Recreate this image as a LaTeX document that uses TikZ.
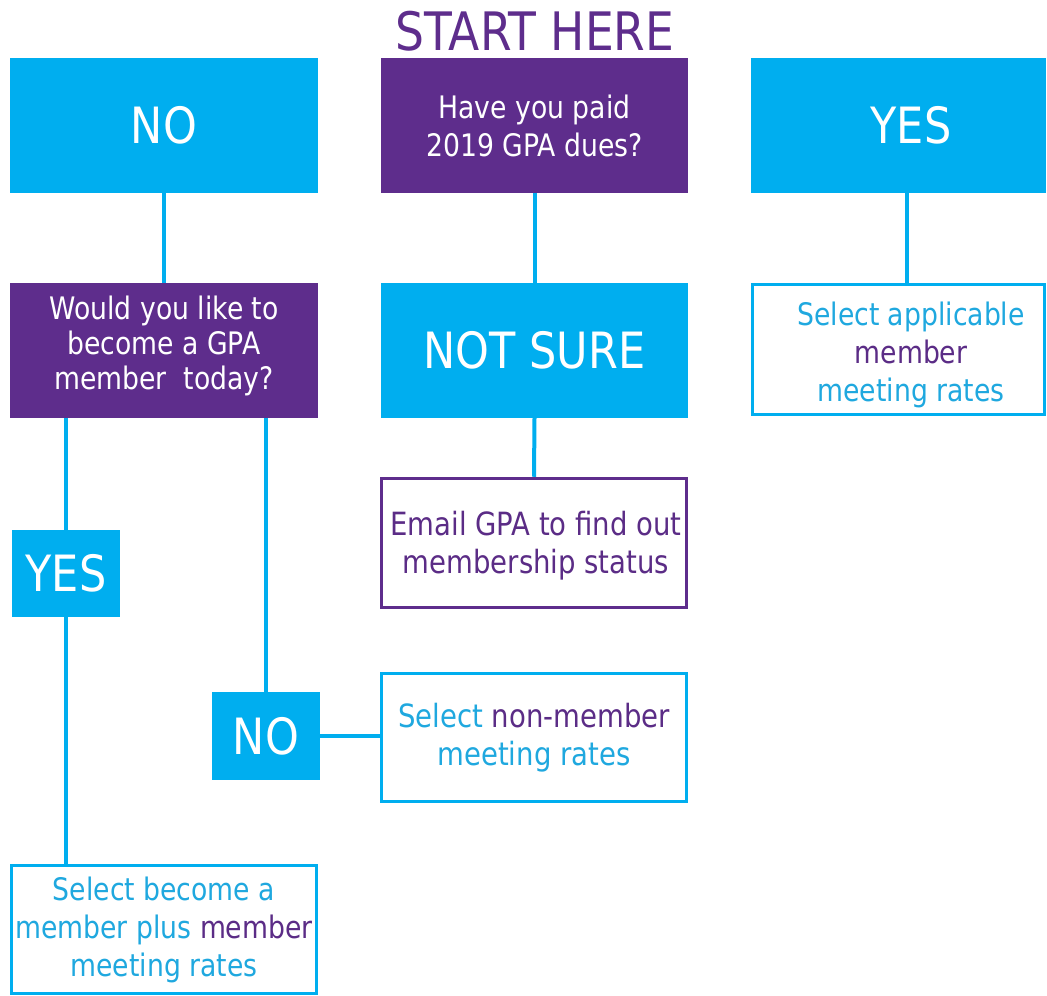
\documentclass[tikz,border=0pt]{standalone}
\usepackage{fontspec}
\setmainfont[FakeStretch=0.86]{DejaVu Sans}
\definecolor{gblue}{HTML}{00AEEF}
\definecolor{gpurple}{HTML}{5E2D8C}
\definecolor{tblue}{HTML}{1FA8DF}
\definecolor{tpurple}{HTML}{5B2C86}
\newcommand{\bigtxt}{\fontsize{50}{54}\selectfont}
\newcommand{\qtxt}{\fontsize{31}{35}\selectfont}
\newcommand{\otxt}{\fontsize{32}{38}\selectfont}
\tikzset{
  bluefill/.style={rectangle, fill=gblue, draw=none, text=white, font=\bigtxt, inner sep=0pt},
  purplefill/.style={rectangle, fill=gpurple, draw=none, text=white, font=\qtxt, align=center, inner sep=0pt},
  outbox/.style={rectangle, fill=white, draw=#1, line width=3.5pt, text=tblue, font=\otxt, align=center, inner sep=0pt},
  link/.style={draw=gblue, line width=4pt},
  plaintxt/.style={inner sep=0pt, align=center}
}
\begin{document}
\begin{tikzpicture}[x=1pt,y=-1pt]
\useasboundingbox[fill=white] (0,0) rectangle (1047,996);

\node[plaintxt, text=gpurple, font=\fontsize{53}{56}\selectfont] (start) at (535,31) {START HERE};

% top row
\node[bluefill, minimum width=308pt, minimum height=135pt] (noTop) at (164,125.5) {NO};
\node[purplefill, minimum width=307pt, minimum height=135pt, font=\fontsize{31}{38}\selectfont] (q1) at (534.5,125.5) {Have you paid\\2019 GPA dues?};
\node[bluefill, minimum width=295pt, minimum height=135pt] (yesTop) at (898.5,125.5) {};
\node[plaintxt, text=white, font=\bigtxt] (yesTopTxt) at (911,125.5) {YES};

% second row
\node[purplefill, minimum width=308pt, minimum height=135pt] (q2) at (164,350.5) {};
\node[plaintxt, text=white, font=\qtxt] (q2Txt) at (164,346) {Would you like to\\become a GPA\\member\ \ today?};
\node[bluefill, minimum width=307pt, minimum height=135pt] (notSure) at (534.5,350.5) {NOT SURE};
\node[outbox=gblue, minimum width=292pt, minimum height=130pt] (appl) at (898.5,349.5) {};
\node[plaintxt, text=tblue, font=\fontsize{31}{38}\selectfont] (applTxt) at (911,355) {Select applicable\\\textcolor{tpurple}{member}\\meeting rates};

% lower nodes
\node[bluefill, minimum width=108pt, minimum height=87pt] (yesSmall) at (66,573.5) {YES};
\node[outbox=gpurple, minimum width=305pt, minimum height=129pt, text=tpurple] (email) at (534,543) {};
\node[plaintxt, text=tpurple, font=\otxt] (emailTxt) at (536,546) {Email GPA to find out\\membership status};
\node[bluefill, minimum width=108pt, minimum height=88pt] (noSmall) at (266,736) {NO};
\node[outbox=gblue, minimum width=305pt, minimum height=128pt] (nonmem) at (534,737.5) {Select \textcolor{tpurple}{non-member}\\meeting rates};
\node[outbox=gblue, minimum width=305pt, minimum height=128pt, font=\fontsize{31}{38}\selectfont] (final) at (164,929.5) {Select become a\\member plus \textcolor{tpurple}{member}\\meeting rates};

\coordinate (ycol) at (907,0);

% connectors
\draw[link] (noTop.south) -- (q2.north);
\draw[link] (q1.south) -- (notSure.north);
\draw[link] (yesTop.south -| ycol) -- (appl.north -| ycol);
\draw[link] (yesSmall.north |- q2.south) -- (yesSmall.north);
\draw[link] (noSmall.north |- q2.south) -- (noSmall.north);
\draw[link] (yesSmall.south) -- (yesSmall.south |- final.north);
\draw[link] (noSmall.east) -- (noSmall.east -| nonmem.west);
\draw[link] (notSure.south) -- (email.north);
\end{tikzpicture}
\end{document}
